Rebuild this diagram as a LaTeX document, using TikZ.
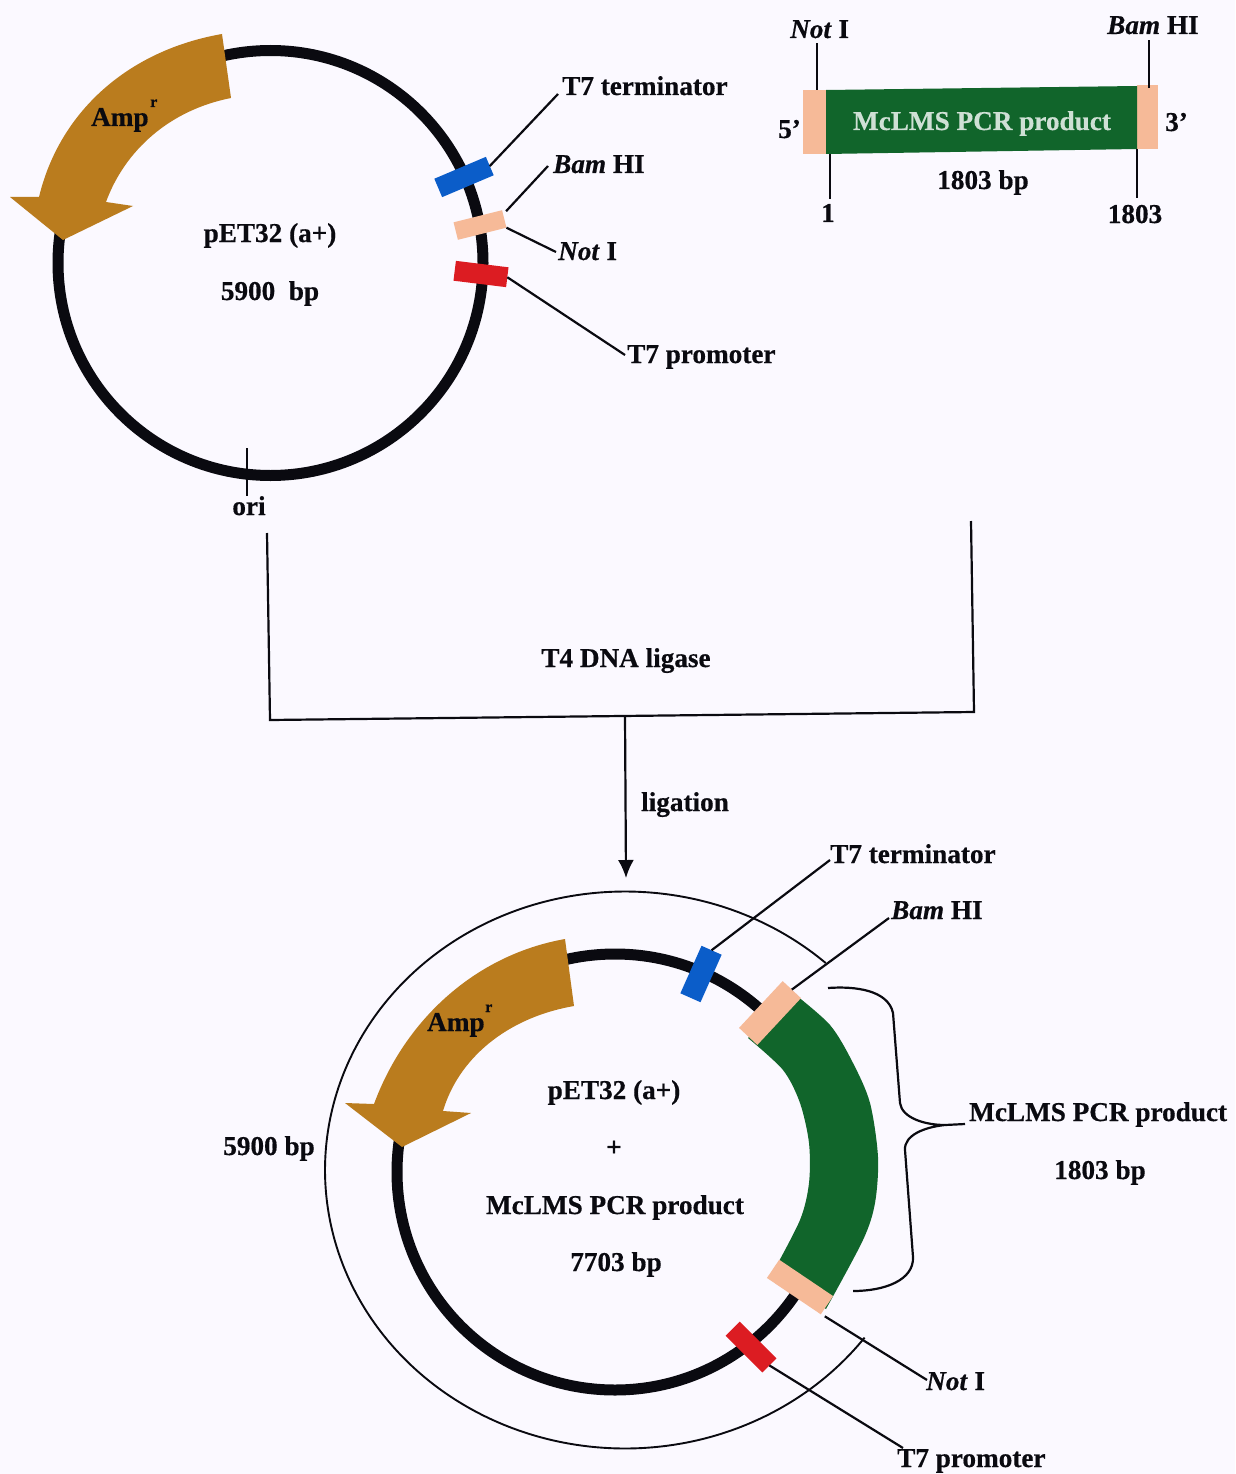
\documentclass[tikz,border=0pt]{standalone}
\usepackage{fontspec}
\setmainfont[BoldFeatures={FakeBold=0.5},BoldItalicFeatures={FakeBold=0.5}]{Liberation Serif}
\usetikzlibrary{calc,arrows.meta}
\definecolor{bgc}{HTML}{FBF9FF}
\definecolor{brownc}{HTML}{BA7C1E}
\definecolor{greenc}{HTML}{11652B}
\definecolor{peachc}{HTML}{F6BA98}
\definecolor{bluec}{HTML}{0B5DC9}
\definecolor{redc}{HTML}{DC1C22}
\definecolor{inkc}{HTML}{0A0A10}
\tikzset{
  lab/.style={font=\fontsize{27.2}{30}\bfseries\selectfont,text=inkc,inner sep=0pt,anchor=base},
  labw/.style={lab,anchor=base west},
  supr/.style={font=\fontsize{16}{18}\bfseries\selectfont,text=inkc,inner sep=0pt,anchor=base west},
  feat/.style={draw=none,inner sep=0pt,outer sep=0pt,minimum width=#1},
  thin line/.style={draw=inkc,line width=2.2pt},
  ring/.style={draw=inkc,line width=11pt},
  oval/.style={draw=inkc,line width=1.9pt},
}
\newcommand{\Bamlabel}{\textit{Bam} HI}
\newcommand{\Notlabel}{\textit{Not} I}
\begin{document}
\begin{tikzpicture}[x=1pt,y=-1pt]
\useasboundingbox (0,0) rectangle (1235,1474);
\fill[bgc] (0,0) rectangle (1235,1474);

% ---------- top plasmid
\draw[ring] (270.5,263) circle[radius=212.5pt];
\fill[brownc] (222,34) .. controls (130,50) and (60,110) .. (39,197) -- (10,197) -- (63,240) -- (133,206) -- (106,202)
  .. controls (125,150) and (170,110) .. (231,98) -- cycle;
\node[labw] (ampA) at (91,126) {Amp};
\node[supr] (ampAr) at (150,107) {r};
\node[lab] (petA) at (270,242) {pET32 (a+)};
\node[lab] (bpA) at (270,300) {5900\ \ bp};
\node[feat=56pt,minimum height=20pt,fill=bluec,rotate=23] (blueA) at (464,177) {};
\node[feat=50pt,minimum height=18pt,fill=peachc,rotate=14] (peachA) at (480,225) {};
\node[feat=53pt,minimum height=20pt,fill=redc,rotate=-7] (redA) at (481,274) {};
\node[labw] (termA) at (562,95) {T7 terminator};
\node[labw] (bamA) at (553,173) {\Bamlabel};
\node[labw] (notA) at (558,260) {\Notlabel};
\node[labw] (promA) at (627,363) {T7 promoter};
\draw[thin line] (blueA.east) -- ([shift={(-4,-1)}]termA.base west);
\draw[thin line] ([shift={(4,1)}]peachA.north east) -- ([shift={(-5,-7)}]bamA.base west);
\draw[thin line] (peachA.south east) -- ([shift={(-2,-8)}]notA.base west);
\draw[thin line] (redA.east) -- ([shift={(-2,-8)}]promA.base west);
\node[lab] (ori) at (249,515) {ori};
\coordinate (oritop) at (247,448);
\draw[thin line] (oritop) -- (oritop |- ori.north);

% ---------- PCR product
\fill[peachc] (803,90) -- (826,90) -- (826,154) -- (803,154) -- cycle;
\fill[peachc] (1137,85) -- (1158,85) -- (1158,149) -- (1137,149) -- cycle;
\fill[greenc] (826,90) -- (1137,86) -- (1137,149) -- (826,154) -- cycle;
\node[lab,text=white!80!greenc] (pcr) at (982,130) {McLMS PCR product};
\node[labw] (five) at (778,138) {5’};
\node[labw] (three) at (1165,131) {3’};
\node[lab] (lenP) at (983,189) {1803 bp};
\node[labw] (notP) at (790,38) {\Notlabel};
\node[labw] (bamP) at (1107,34) {\Bamlabel};
\node[lab] (oneP) at (828,222) {1};
\node[lab] (endP) at (1135,223) {1803};
\coordinate (pL) at (817,90);
\coordinate (pR) at (1149,88);
\coordinate (qL) at (830,154);
\coordinate (qR) at (1137,149);
\draw[thin line] (pL) -- ([yshift=-5pt]pL |- notP.south);
\draw[thin line] (pR) -- ([yshift=-6pt]pR |- bamP.south);
\draw[thin line] (qL) -- ([yshift=5pt]qL |- oneP.north);
\draw[thin line] (qR) -- ([yshift=7pt]qR |- endP.north);

% ---------- ligation bracket
\coordinate (brL) at (267,533);
\coordinate (brLc) at (270,720);
\coordinate (brRc) at (974,712);
\coordinate (brR) at (971,521);
\coordinate (brM) at (625,716);
\coordinate (arrEnd) at (626,878);
\draw[thin line] (brL) -- (brLc) -- (brRc) -- (brR);
\draw[thin line,-{Latex[length=18pt,width=16pt]}] (brM) -- (arrEnd);
\node[lab] (t4) at (626,667) {T4 DNA ligase};
\node[lab] (lig) at (685,811) {ligation};

% ---------- bottom plasmid
\draw[oval] plot[smooth,samples=140,domain=-323:-48] ({625+300*cos(\x)},{1170+278.5*sin(\x)});
\draw[ring] (615,1172) circle[radius=218pt];
\fill[brownc] (565,939) .. controls (475,955) and (405,1020) .. (374,1104) -- (345,1103) -- (402,1147) -- (471,1113) -- (443,1111)
  .. controls (458,1060) and (505,1018) .. (574,1006) -- cycle;
\fill[greenc] plot[smooth] coordinates {(792,992) (830,1025) (853,1063) (870,1103) (878,1157) (875,1203) (863,1240) (826,1309)}
  -- plot[smooth] coordinates {(772,1274) (800,1220) (809,1183) (809,1143) (800,1103) (783,1070) (748,1038)} -- cycle;
\node[feat=64pt,minimum height=25pt,fill=peachc,rotate=47] (peachB) at (770,1013) {};
\node[feat=65pt,minimum height=22pt,fill=peachc,rotate=-34] (peachC) at (800,1287) {};
\node[feat=52pt,minimum height=22pt,fill=bluec,rotate=66] (blueB) at (701,974) {};
\node[feat=52pt,minimum height=20pt,fill=redc,rotate=-45] (redB) at (751,1347) {};
\node[labw] (ampB) at (427,1031) {Amp};
\node[supr] (ampBr) at (485,1012) {r};
\node[lab] (petB) at (614,1099) {pET32 (a+)};
\node[lab] (plus) at (614,1156) {+};
\node[lab] (pcrB) at (615,1214) {McLMS PCR product};
\node[lab] (lenB) at (616,1271) {7703 bp};
\node[lab] (bpB) at (269,1155) {5900 bp};
\node[labw] (termB) at (830,863) {T7 terminator};
\node[labw] (bamB) at (891,919) {\Bamlabel};
\node[labw] (notB) at (926,1390) {\Notlabel};
\node[labw] (promB) at (897,1467) {T7 promoter};
\node[labw] (pcrC) at (969,1121) {McLMS PCR product};
\node[lab] (lenC) at (1100,1179) {1803 bp};
\draw[thin line] (blueB.east) -- ([shift={(0,-3)}]termB.base west);
\draw[thin line] (peachB.east) -- ([shift={(-2,-1)}]bamB.base west);
\draw[thin line] ([shift={(4,2)}]peachC.south east) -- ([shift={(1,-10)}]notB.base west);
\draw[thin line] (redB.east) -- ([shift={(6,-19)}]promB.base west);
\draw[thin line] (828,988) .. controls (855,986) and (888,990) .. (893,1013)
  -- (900,1103)
  .. controls (902,1118) and (925,1125) .. (945,1125) -- ([shift={(-4,3)}]pcrC.base west)
  (945,1125) .. controls (925,1127) and (904,1135) .. (905,1150)
  -- (913,1257)
  .. controls (914,1280) and (885,1291) .. (853,1291);
\end{tikzpicture}
\end{document}
